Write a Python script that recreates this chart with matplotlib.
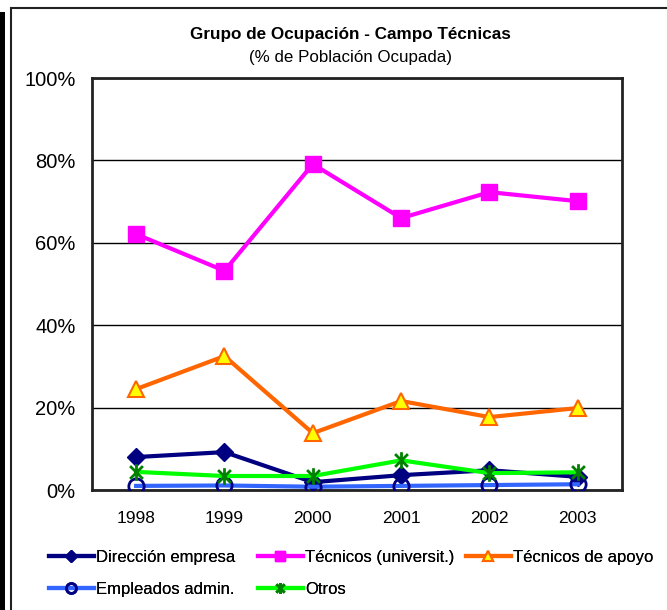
import numpy as np
import matplotlib.pyplot as plt
from matplotlib.path import Path
from matplotlib.patches import Rectangle

plt.rcParams['font.family'] = ['Liberation Sans', 'DejaVu Sans']

years = ["1998", "1999", "2000", "2001", "2002", "2003"]
direccion = [8.0, 9.2, 1.9, 3.6, 4.8, 3.2]
tecnicos_univ = [62.1, 53.2, 79.1, 66.0, 72.3, 70.1]
tecnicos_apoyo = [24.5, 32.5, 13.8, 21.6, 17.7, 19.9]
empleados = [1.0, 1.1, 0.8, 1.0, 1.2, 1.4]
otros = [4.4, 3.4, 3.4, 7.2, 4.1, 4.3]

# asterisk marker: an X with a vertical bar through it
star = Path([(-1, -1), (1, 1), (-1, 1), (1, -1), (0, -1.3), (0, 1.3)],
            [Path.MOVETO, Path.LINETO, Path.MOVETO, Path.LINETO, Path.MOVETO, Path.LINETO])

fig = plt.figure(figsize=(6.67, 6.1), dpi=100)
ax = fig.add_axes([0.1379, 0.1967, 0.7946, 0.6754])
x = np.arange(len(years))

l_dir, = ax.plot(x, direccion, color="#000080", lw=3, marker="D", ms=9,
                 mfc="#000080", mec="#000080", label="Dirección empresa", zorder=3)
l_tec, = ax.plot(x, tecnicos_univ, color="#FF00FF", lw=3, marker="s", ms=12,
                 mfc="#FF00FF", mec="#FF00FF", label="Técnicos (universit.)", zorder=3)
l_apo, = ax.plot(x, tecnicos_apoyo, color="#FF6600", lw=3, marker="^", ms=12,
                 mfc="#FFFF00", mec="#FF6600", mew=1.5, label="Técnicos de apoyo", zorder=3)
l_emp, = ax.plot(x, empleados, color="#3366FF", lw=3, marker="o", ms=11,
                 mfc="none", mec="#000080", mew=2, label="Empleados admin.", zorder=3)
l_otr, = ax.plot(x, otros, color="#00FF00", lw=3, marker=star, ms=12,
                 mfc="none", mec="#008000", mew=2, label="Otros", zorder=3)

ax.set_xlim(-0.5, 5.5)
ax.set_ylim(0, 100)
ax.set_xticks(x)
ax.set_xticklabels(years, fontsize=12.5)
ax.set_yticks([0, 20, 40, 60, 80, 100])
ax.set_yticklabels(["0%", "20%", "40%", "60%", "80%", "100%"], fontsize=14.5)
ax.tick_params(axis="both", length=0)
ax.tick_params(axis="y", pad=11.7)
ax.tick_params(axis="x", pad=15)
ax.grid(axis="y", color="black", lw=1)
for s in ax.spines.values():
    s.set_linewidth(2)
    s.set_color("#222222")

fig.text(0.525, 0.943, "Grupo de Ocupación - Campo Técnicas", ha="center", va="center",
         fontsize=12.3, fontweight="bold")
fig.text(0.525, 0.905, "(% de Población Ocupada)", ha="center", va="center", fontsize=12.2)

# legend laid out as three fixed columns
columns = [([l_dir, l_emp], 42), ([l_tec, l_otr], 251), ([l_apo], 459)]
for hs, px in columns:
    leg = fig.legend(hs, [h.get_label() for h in hs], loc="upper left",
                     bbox_to_anchor=(px / 667, 0.110), ncol=1, frameon=False,
                     fontsize=12, handlelength=2.7, handletextpad=0.15,
                     labelspacing=1.05, borderaxespad=0, markerscale=0.65)
    fig.add_artist(leg)

# outer frame and dark edge on the left
fig.patches.append(Rectangle((11 / 667, -0.1), 1.2, 1 - 8 / 610 + 0.1,
                             transform=fig.transFigure, fill=False, lw=1.5,
                             edgecolor="#222222"))
fig.patches.append(Rectangle((0, 0), 5 / 667, 1 - 12 / 610, transform=fig.transFigure,
                             facecolor="black", edgecolor="none"))

fig.savefig("out.png", dpi=100)
